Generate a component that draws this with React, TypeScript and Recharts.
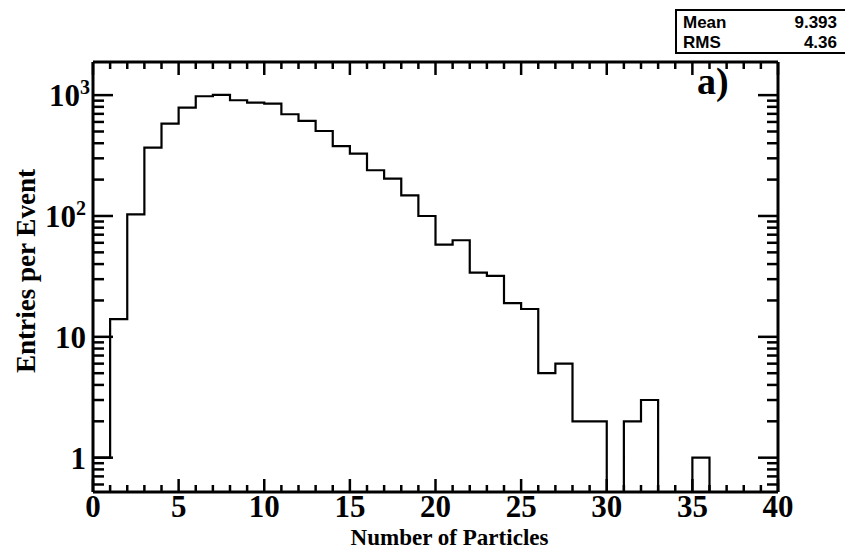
import React from "react";
import { ComposedChart, Line, XAxis, YAxis, ReferenceLine } from "recharts";

// bin contents, one per unit bin from 0 to 40
const binEdges = Array.from({ length: 41 }, (_, i) => i);
const counts = [
  1, 14, 103, 368, 582, 789, 979, 1004, 907, 868,
  852, 695, 612, 505, 378, 328, 239, 204, 148, 100,
  58, 63, 34, 32, 19, 17, 5, 6, 2, 2,
  0, 2, 3, 0, 0, 1, 0, 0, 0, 0,
];

const xMajor = [0, 5, 10, 15, 20, 25, 30, 35, 40];
const yMajor = [1, 10, 100, 1000];
const yMajorLabels = ["1", "10", "10^2", "10^3"];

const Y_MIN = 0.52;
const Y_MAX = 1880;

// frame geometry (set by the chart margins / axis sizes below)
const PLOT_TOP = 62;
const PLOT_RIGHT = 778;

const xTicks = binEdges;
const yTicks: number[] = [];
[0.1, 1, 10, 100, 1000].forEach((d) => {
  for (let k = 1; k <= 9; k++) {
    const v = +(k * d).toPrecision(3);
    if (v >= Y_MIN && v <= Y_MAX) yTicks.push(v);
  }
});

// step outline: last edge repeats the last bin; empty bins sit on the axis floor (log scale)
const histData = binEdges.map((x, i) => {
  const c = i < counts.length ? counts[i] : counts[counts.length - 1];
  return { x, y: Math.max(c, Y_MIN) };
});

const serif = "'Liberation Serif', 'Times New Roman', serif";
const sans = "'Liberation Sans', Arial, sans-serif";
const STROKE = "#000";
const TICK_FONT = 31;

function YLabelText({ x, y, label }: { x: number; y: number; label: string }) {
  const common = {
    x,
    y,
    textAnchor: "end" as const,
    fontFamily: serif,
    fontWeight: "bold",
    fontSize: TICK_FONT,
    fill: "#000",
  };
  if (label.includes("^")) {
    const [base, exp] = label.split("^");
    return (
      <text {...common}>
        {base}
        <tspan dy={-12} fontSize={20}>{exp}</tspan>
      </text>
    );
  }
  return <text {...common}>{label}</text>;
}

function LeftTick(props: any) {
  const { x, y, payload } = props;
  const v = payload.value;
  const mi = yMajor.indexOf(v);
  const major = mi >= 0;
  const len = major ? 20 : 11;
  return (
    <g>
      <line x1={x} y1={y} x2={x + len} y2={y} stroke={STROKE} strokeWidth={2.5} />
      <line x1={PLOT_RIGHT} y1={y} x2={PLOT_RIGHT - len} y2={y} stroke={STROKE} strokeWidth={2.5} />
      {major && <YLabelText x={v === 1000 ? x - 3 : x - 7} y={y + 11} label={yMajorLabels[mi]} />}
    </g>
  );
}

function BottomTick(props: any) {
  const { x, y, payload } = props;
  const major = xMajor.includes(payload.value);
  const len = major ? 13 : 7;
  return (
    <g>
      <line x1={x} y1={y} x2={x} y2={y - len} stroke={STROKE} strokeWidth={2.5} />
      <line x1={x} y1={PLOT_TOP} x2={x} y2={PLOT_TOP + len} stroke={STROKE} strokeWidth={2.5} />
      {major && (
        <text x={x} y={y + 25} textAnchor="middle" fontFamily={serif} fontWeight="bold" fontSize={TICK_FONT} fill="#000">
          {payload.value}
        </text>
      )}
    </g>
  );
}

function XTitle(props: any) {
  const vb = props.viewBox;
  return (
    <text
      x={vb.x + vb.width / 2 + 14}
      y={vb.y + 53}
      textAnchor="middle"
      textLength={198}
      lengthAdjust="spacingAndGlyphs"
      fontFamily={serif}
      fontWeight="bold"
      fontSize={23}
      fill="#000"
    >
      Number of Particles
    </text>
  );
}

function YTitle(props: any) {
  const vb = props.viewBox;
  const cx = vb.x + 35;
  const cy = vb.y + vb.height / 2 - 6;
  return (
    <text
      x={cx}
      y={cy}
      transform={`rotate(-90 ${cx} ${cy})`}
      textAnchor="middle"
      textLength={204}
      lengthAdjust="spacingAndGlyphs"
      fontFamily={serif}
      fontWeight="bold"
      fontSize={27}
      fill="#000"
    >
      Entries per Event
    </text>
  );
}

export default function App() {
  return (
    <div style={{ position: "absolute", left: 0, top: 0, width: 845, height: 550, background: "#fff" }}>
      <ComposedChart width={845} height={550} data={histData} margin={{ top: PLOT_TOP, right: 845 - PLOT_RIGHT, bottom: 0, left: 0 }}>
        <XAxis
          dataKey="x"
          type="number"
          domain={[0, 40]}
          allowDataOverflow
          ticks={xTicks}
          interval={0}
          height={58}
          tickSize={0}
          tickMargin={0}
          tick={<BottomTick />}
          axisLine={{ stroke: STROKE, strokeWidth: 3 }}
          tickLine={false}
          label={<XTitle />}
        />
        <YAxis
          scale="log"
          type="number"
          domain={[Y_MIN, Y_MAX]}
          allowDataOverflow
          ticks={yTicks}
          interval={0}
          width={93}
          tickSize={0}
          tickMargin={0}
          tick={<LeftTick />}
          axisLine={{ stroke: STROKE, strokeWidth: 3 }}
          tickLine={false}
          label={<YTitle />}
        />
        <ReferenceLine x={40} stroke={STROKE} strokeWidth={3} />
        <ReferenceLine y={Y_MAX} stroke={STROKE} strokeWidth={3} />
        <Line
          dataKey="y"
          type="stepAfter"
          stroke={STROKE}
          strokeWidth={2.2}
          dot={false}
          activeDot={false}
          isAnimationActive={false}
        />
      </ComposedChart>
      <div
        style={{
          position: "absolute",
          left: 697,
          top: 60,
          fontFamily: serif,
          fontWeight: "bold",
          fontSize: 38,
          lineHeight: "42px",
        }}
      >
        a)
      </div>
      <div
        style={{
          position: "absolute",
          left: 675,
          top: 9,
          width: 175,
          height: 45,
          boxSizing: "border-box",
          border: "2px solid #000",
          background: "#fff",
          fontFamily: sans,
          fontWeight: "bold",
          fontSize: 17,
          lineHeight: "20px",
          padding: "2px 0 0 6px",
        }}
      >
        <div style={{ display: "flex", justifyContent: "space-between", width: 154 }}>
          <span>Mean</span>
          <span>9.393</span>
        </div>
        <div style={{ display: "flex", justifyContent: "space-between", width: 154 }}>
          <span>RMS</span>
          <span>4.36</span>
        </div>
      </div>
    </div>
  );
}
